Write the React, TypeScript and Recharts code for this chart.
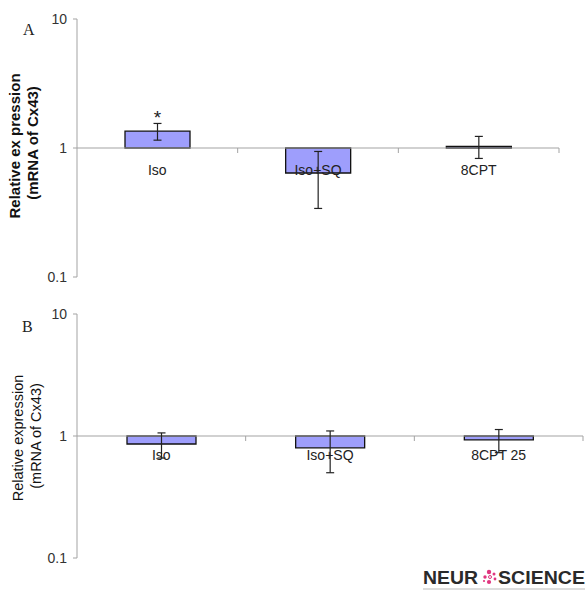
import React from "react";
import { BarChart, Bar, XAxis, YAxis, ErrorBar, ReferenceLine, LabelList } from "recharts";

// panel A
const groupsA = ["Iso", "Iso+SQ", "8CPT"];
const meansA = [1.35, 0.64, 1.03];
const errsA = [0.2, 0.3, 0.2];
const sigA = ["*", "", ""];

// panel B
const groupsB = ["Iso", "Iso+SQ", "8CPT 25"];
const meansB = [0.86, 0.8, 0.93];
const errsB = [0.2, 0.3, 0.2];
const sigB = ["", "", ""];

const yTicks = [0.1, 1, 10];
const BASE = 1; // bars grow from 1 on the log axis

const FILL = "#9e9efc";
const AXIS = "#a3a3a3";
const FONT = "Arial, 'Liberation Sans', sans-serif";

function rows(groups: string[], means: number[], errs: number[], sig: string[]) {
  return groups.map((g, i) => ({ name: g, range: [BASE, means[i]], err: errs[i], sig: sig[i] }));
}

type PanelProps = {
  data: any[];
  width: number;
  height: number;
  margin: { top: number; right: number; bottom: number; left: number };
  barSize: number;
  labelDy: number;
};

function Panel({ data, width, height, margin, barSize, labelDy }: PanelProps) {
  const plotH = height - margin.top - margin.bottom - 1;
  const plotW = width - margin.right - 77;
  const band = plotW / data.length;
  const baseY = margin.top + plotH / 2;

  const tick = (props: any) => {
    const { x, payload } = props;
    return (
      <g>
        <line x1={x + band / 2} x2={x + band / 2} y1={baseY} y2={baseY + 5} stroke={AXIS} />
        <text x={x} y={baseY + labelDy} textAnchor="middle" fontSize={14} fontFamily={FONT} fill="#222">
          {payload.value}
        </text>
      </g>
    );
  };

  return (
    <BarChart width={width} height={height} data={data} margin={margin} barSize={barSize}>
      <XAxis dataKey="name" height={1} axisLine={false} tickLine={false} tick={tick} interval={0} />
      <YAxis
        scale="log"
        domain={[0.1, 10]}
        ticks={yTicks}
        allowDataOverflow
        width={77}
        axisLine={{ stroke: AXIS }}
        tickLine={{ stroke: AXIS }}
        tickSize={4}
        tickMargin={6}
        tick={{ fontSize: 14, fill: "#333", fontFamily: FONT }}
        tickFormatter={(v: number) => String(v)}
      />
      <ReferenceLine y={1} stroke={AXIS} strokeWidth={1.2} />
      <Bar dataKey="range" fill={FILL} stroke="#111" strokeWidth={1.3} isAnimationActive={false}>
        <ErrorBar dataKey="err" width={4} stroke="#222" strokeWidth={1.2} direction="y" />
        <LabelList
          dataKey="sig"
          content={(p: any) =>
            p.value ? (
              <text x={p.x + p.width / 2} y={p.y - 7} textAnchor="middle" fontSize={19} fontFamily={FONT} fill="#222">
                {p.value}
              </text>
            ) : null
          }
        />
      </Bar>
    </BarChart>
  );
}

export default function App() {
  const dataA = rows(groupsA, meansA, errsA, sigA);
  const dataB = rows(groupsB, meansB, errsB, sigB);
  return (
    <div style={{ position: "absolute", left: 0, top: 0, width: 585, height: 592, background: "#fff", overflow: "hidden" }}>
      <div style={{ position: "absolute", left: 0, top: 0 }}>
        <Panel data={dataA} width={585} height={296} margin={{ top: 19, right: 26, bottom: 18, left: 0 }} barSize={65} labelDy={27} />
      </div>
      <div style={{ position: "absolute", left: 0, top: 295 }}>
        <Panel data={dataB} width={585} height={281} margin={{ top: 19, right: 2, bottom: 17, left: 0 }} barSize={69} labelDy={24} />
      </div>
      <svg width={585} height={592} style={{ position: "absolute", left: 0, top: 0, pointerEvents: "none" }}>
        <text x={23} y={35} fontSize={16} fontFamily="'Liberation Serif', serif" fill="#222">A</text>
        <text x={22} y={332} fontSize={16} fontFamily="'Liberation Serif', serif" fill="#222">B</text>

        <g fontFamily={FONT} fontSize={15} fontWeight="bold" fill="#111" textAnchor="middle">
          <text transform="translate(20,146) rotate(-90)">Relative ex pression</text>
          <text transform="translate(38,143) rotate(-90)">(mRNA of Cx43)</text>
        </g>
        <g fontFamily={FONT} fontSize={14.5} fill="#111" textAnchor="middle">
          <text transform="translate(23,438) rotate(-90)">Relative expression</text>
          <text transform="translate(41,436) rotate(-90)">(mRNA of Cx43)</text>
        </g>

        <g fontFamily={FONT} fontWeight="bold" fontSize={18} fill="#2a2a2a">
          <text x={423} y={584} textLength={55} lengthAdjust="spacingAndGlyphs">NEUR</text>
          <text x={498} y={584} textLength={87} lengthAdjust="spacingAndGlyphs">SCIENCE</text>
        </g>
        <g fill="#e0357f">
          <circle cx={489} cy={572} r={2.2} />
          <circle cx={494} cy={574} r={1.5} />
          <circle cx={485} cy={577} r={1.7} />
          <circle cx={495} cy={579} r={1.4} />
          <circle cx={489} cy={582} r={2.1} />
          <circle cx={484} cy={581} r={1.1} />
          <circle cx={490} cy={577} r={1.5} fill="#fff" stroke="#e0357f" strokeWidth={1} />
        </g>
        <line x1={423} x2={585} y1={589} y2={589} stroke="#ddd" strokeWidth={2} />
      </svg>
    </div>
  );
}
